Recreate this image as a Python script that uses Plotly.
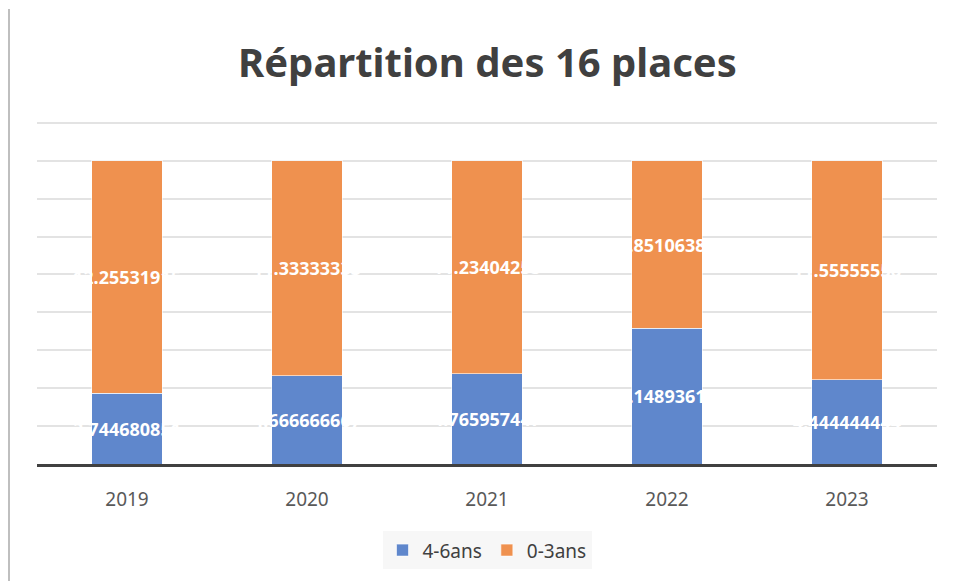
import plotly.graph_objects as go

years = ["2019", "2020", "2021", "2022", "2023"]
enfants_4_6 = [3.744680851, 4.666666667, 4.765957447, 7.14893617, 4.444444444]
enfants_0_3 = [12.25531915, 11.33333333, 11.23404255, 8.85106383, 11.55555556]

series = [
    ("4-6ans", enfants_4_6, "#5F87CC"),
    ("0-3ans", enfants_0_3, "#EF914F"),
]

fig = go.Figure()
for name, vals, col in series:
    fig.add_trace(go.Bar(
        x=years, y=vals, name=name,
        marker=dict(color=col, line=dict(color="rgba(255,255,255,0.6)", width=1)),
        text=[f"{v:.10g}" for v in vals],
        textposition="inside", insidetextanchor="middle",
        constraintext="none", textangle=0,
        textfont=dict(family="Noto Sans", size=18, color="white", weight="bold"),
        cliponaxis=False,
    ))

border = dict(color="#BFBFBF", width=2)
fig.update_layout(
    barmode="stack",
    bargap=0.61,
    width=955, height=581,
    margin=dict(l=29, r=26, t=111, b=125, autoexpand=False),
    paper_bgcolor="white", plot_bgcolor="white",
    title=dict(text="<b>Répartition des 16 places</b>", x=0.502, xanchor="center",
               y=0.905, yanchor="middle",
               font=dict(family="Noto Sans", size=40, color="#404040")),
    xaxis=dict(showgrid=False, showline=True, linecolor="#404040", linewidth=2.5,
               ticks="", tickfont=dict(family="Noto Sans", size=19, color="#595959"),
               ticklabelstandoff=16, automargin=False),
    yaxis=dict(range=[0, 18.2], tickvals=[0, 2, 4, 6, 8, 10, 12, 14, 16, 18],
               showticklabels=False, showgrid=True,
               gridcolor="#E3E3E3", gridwidth=2, zeroline=False, showline=False,
               automargin=False),
    legend=dict(orientation="h", x=0.5, xanchor="center", y=-0.25, yanchor="middle",
                bgcolor="#F7F7F7", font=dict(family="Noto Sans", size=19, color="#404040"),
                itemwidth=30, traceorder="normal"),
    showlegend=True,
    shapes=[
        dict(type="line", xref="paper", yref="paper", x0=-28/900, x1=-28/900,
             y0=-130/345, y1=455/345, line=border, layer="above"),
        dict(type="line", xref="paper", yref="paper", x0=914/900, x1=914/900,
             y0=-130/345, y1=455/345, line=border, layer="above"),
    ],
)

fig.write_html("out.html")
